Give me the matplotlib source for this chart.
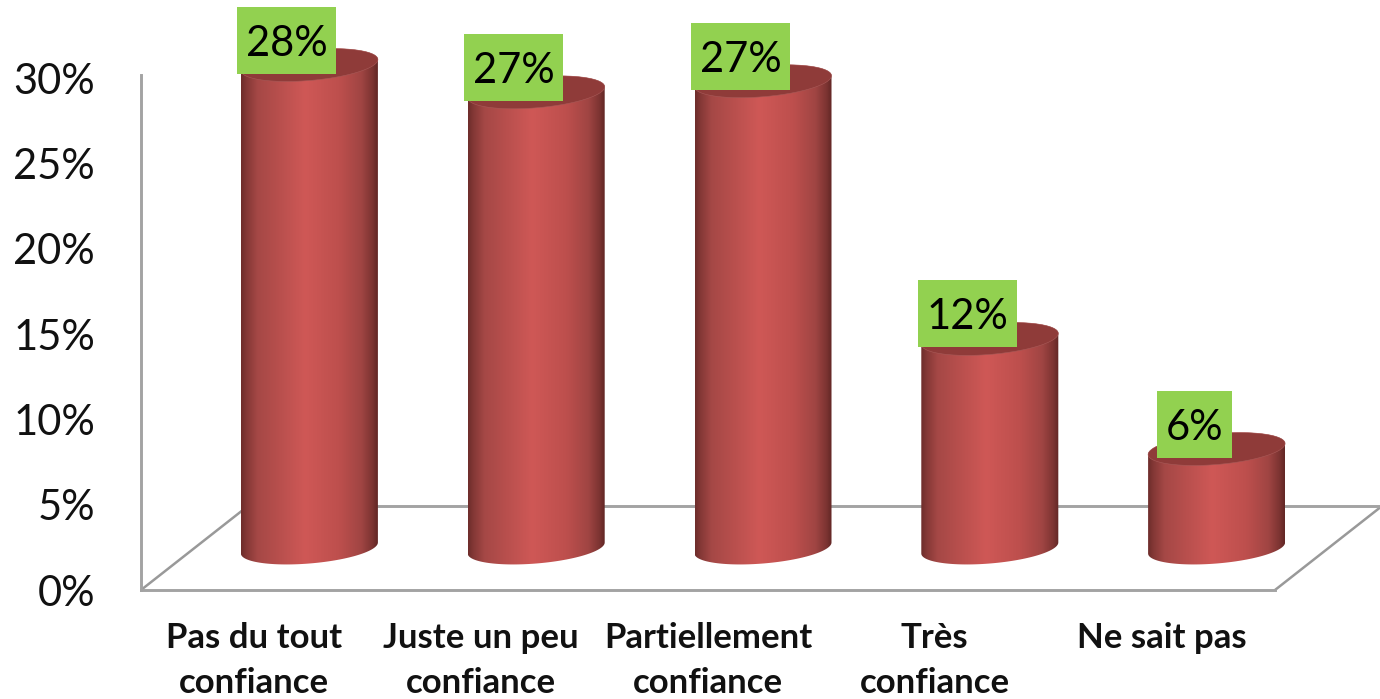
import numpy as np
import matplotlib
matplotlib.use("Agg")
import matplotlib.pyplot as plt
from matplotlib.colors import LinearSegmentedColormap
from matplotlib.patches import Polygon, Rectangle

categories = ["Pas du tout\nconfiance", "Juste un peu\nconfiance", "Partiellement\nconfiance", "Très\nconfiance", "Ne sait pas"]
values = [28.3, 26.7, 27.35, 12.25, 5.8]
value_labels = ["28%", "27%", "27%", "12%", "6%"]
y_ticks = [0, 5, 10, 15, 20, 25, 30]

W, H = 1380, 699
fig = plt.figure(figsize=(W / 100, H / 100), dpi=100, facecolor="white")
L, R, T, B = 141, 1380, 78, 590
ax = fig.add_axes([L / W, 1 - B / H, (R - L) / W, (B - T) / H])
UX = 226.8
UY = (B - T) / 30
xlim = (-0.5, -0.5 + (R - L) / UX)
ylim = (0, 30)
px = lambda d: d / UX
py = lambda d: d / UY

GRAY = "#a3a3a3"
FONT = "Lato"
ax.set_xlim(xlim)
ax.set_ylim(ylim)
ax.set_facecolor("none")
for s in ("top", "right"):
    ax.spines[s].set_visible(False)
for s in ("left", "bottom"):
    ax.spines[s].set_color(GRAY)
    ax.spines[s].set_linewidth(2.1)
ax.spines["bottom"].set_bounds(-0.5, 4.5)
ax.spines["left"].set_bounds(0, 30.2)

ax.set_yticks(y_ticks)
ax.set_yticklabels([f"{v}%" for v in y_ticks], fontsize=30, family=FONT, color="#111111")
ax.tick_params(axis="y", length=0, pad=33)
ax.set_xticks(range(len(categories)))
ax.set_xticklabels(categories, fontsize=25, family=FONT, fontweight="bold", color="#111111", linespacing=1.5)
ax.tick_params(axis="x", length=0, pad=23)

# floor
dx_floor, dy_floor = px(107), py(84)
ax.plot([-0.5, -0.5 + dx_floor], [0, dy_floor], color="#999999", lw=1.8, zorder=1)
ax.plot([4.5, 4.5 + dx_floor], [0, dy_floor], color="#999999", lw=1.8, zorder=1)
ax.plot([-0.5 + dx_floor, 4.5 + dx_floor], [dy_floor, dy_floor], color=GRAY, lw=2.1, zorder=1)

# cylinders
cmap = LinearSegmentedColormap.from_list("cyl", [
    (0.00, "#6e2d2b"), (0.04, "#843836"), (0.12, "#a54846"), (0.47, "#cf5856"),
    (0.72, "#bd4f4d"), (0.88, "#a04543"), (0.96, "#7d3432"), (1.00, "#622725")])
grad = np.linspace(0, 1, 256).reshape(1, -1)
a, b, s = 68.5, 15.5, 5.5
off_x, off_y = px(55), py(42)
t_lo = np.linspace(0, np.pi, 80)
t_up = np.linspace(np.pi, 2 * np.pi, 80)
t_all = np.linspace(0, 2 * np.pi, 160)


def rim(cx, cy, t):
    return np.column_stack([cx + px(a) * np.cos(t), cy - py(b) * np.sin(t) + py(s) * np.cos(t)])


for i, (v, lab) in enumerate(zip(values, value_labels)):
    cx = i + off_x
    y0, y1 = off_y, off_y + v
    body = Polygon(np.vstack([rim(cx, y0, t_lo), rim(cx, y1, t_up)]), closed=True,
                   facecolor="none", edgecolor="none", zorder=2, clip_on=False)
    ax.add_patch(body)
    im = ax.imshow(grad, cmap=cmap, aspect="auto", zorder=2, interpolation="bilinear",
                   extent=(cx - px(a), cx + px(a), y0 - py(25), y1 + py(25)))
    im.set_clip_box(fig.bbox)
    im.set_clip_path(body)
    ax.add_patch(Polygon(rim(cx, y1, t_all), closed=True, facecolor="#8f3b39",
                         edgecolor="#a85a58", lw=0.4, zorder=3, clip_on=False))
    # value label box
    bw = 99 if len(lab) == 3 else 75
    bh = 67
    bx, by = cx - px(22.5), y1 + py(25)
    ax.add_patch(Rectangle((bx - px(bw / 2), by - py(bh / 2)), px(bw), py(bh),
                           facecolor="#92d150", edgecolor="none", zorder=4, clip_on=False))
    ax.text(bx, by, lab, ha="center", va="center_baseline", fontsize=30, family=FONT,
            color="black", zorder=5, clip_on=False)

ax.set_xlim(xlim)
ax.set_ylim(ylim)
fig.savefig("out.png", dpi=100)
